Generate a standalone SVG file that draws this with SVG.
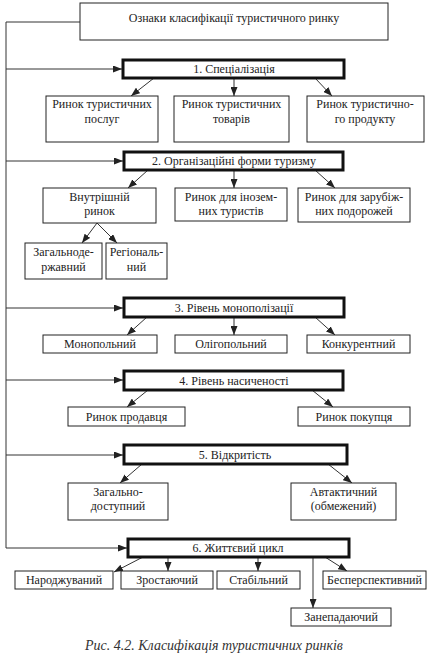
<svg xmlns="http://www.w3.org/2000/svg" width="436" height="664" viewBox="0 0 436 664">
<style>
.b{fill:#fff;stroke:#222;stroke-width:1}
.h{fill:#fff;stroke:#111;stroke-width:3}
.t{font-family:"Liberation Serif","Times New Roman",serif;font-size:12px;fill:#222;text-anchor:middle}
.c{stroke:#333;stroke-width:1;fill:none}
.a{stroke:#333;stroke-width:1;fill:none;marker-end:url(#ar)}
.cap{font-family:"Liberation Serif","Times New Roman",serif;font-size:14px;font-style:italic;fill:#333;text-anchor:middle}
</style>
<defs>
<marker id="ar" markerUnits="userSpaceOnUse" markerWidth="9" markerHeight="7" refX="9" refY="3.5" orient="auto">
<path d="M0,0 L9,3.5 L0,7 z" fill="#222"/>
</marker>
</defs>
<rect width="436" height="664" fill="#fff"/>
<g id="connectors">
<path class="c" d="M80,22 H6 V548"/>
<path class="a" d="M6,69 H122"/>
<path class="a" d="M6,161 H123"/>
<path class="a" d="M6,308 H123"/>
<path class="a" d="M6,380 H123"/>
<path class="a" d="M6,455 H123"/>
<path class="a" d="M6,548 H127"/>
<path class="a" d="M154,78 L131,96"/>
<path class="a" d="M234,78 V96"/>
<path class="a" d="M315,78 L332,96"/>
<path class="a" d="M148,170 L128,188"/>
<path class="a" d="M234,170 V188"/>
<path class="a" d="M315,170 L335,188"/>
<path class="a" d="M97,223 L82,243"/>
<path class="a" d="M97,223 L117,243"/>
<path class="a" d="M147,317 L127,335"/>
<path class="a" d="M234,317 V335"/>
<path class="a" d="M315,317 L335,335"/>
<path class="a" d="M148,390 L127,407"/>
<path class="a" d="M312,390 L333,407"/>
<path class="a" d="M142,464 L120,483"/>
<path class="a" d="M328,464 L352,483"/>
<path class="a" d="M143,557 L114,572"/>
<path class="a" d="M168,557 V571"/>
<path class="a" d="M258,557 V571"/>
<path class="a" d="M313,557 V608"/>
<path class="a" d="M325,557 L347,571"/>
</g>
<g id="root"><rect class="b" x="80" y="3" width="308" height="37"/><text class="t" x="234" y="22">Ознаки класифікації туристичного ринку</text></g>
<g id="c1"><rect class="h" x="123" y="60" width="221" height="18"/><text class="t" x="234" y="73">1. Спеціалізація</text></g>
<g id="n1a"><rect class="b" x="46" y="96" width="112" height="46"/><text class="t" x="102" y="108">Ринок туристичних</text><text class="t" x="102" y="123">послуг</text></g>
<g id="n1b"><rect class="b" x="174" y="96" width="115" height="46"/><text class="t" x="231.5" y="108">Ринок туристичних</text><text class="t" x="231.5" y="123">товарів</text></g>
<g id="n1c"><rect class="b" x="307" y="96" width="117" height="46"/><text class="t" x="365" y="108">Ринок туристично-</text><text class="t" x="365" y="123">го продукту</text></g>
<g id="c2"><rect class="h" x="124" y="152" width="219" height="18"/><text class="t" x="234" y="165">2. Організаційні форми туризму</text></g>
<g id="n2a"><rect class="b" x="43" y="188" width="113" height="35"/><text class="t" x="99.5" y="201">Внутрішній</text><text class="t" x="99.5" y="215">ринок</text></g>
<g id="n2b"><rect class="b" x="175" y="188" width="112" height="33"/><text class="t" x="231" y="201">Ринок для інозем-</text><text class="t" x="231" y="215">них туристів</text></g>
<g id="n2c"><rect class="b" x="298" y="188" width="112" height="34"/><text class="t" x="354" y="201">Ринок для зарубіж-</text><text class="t" x="354" y="215">них подорожей</text></g>
<g id="n2a1"><rect class="b" x="25" y="243" width="77" height="36"/><text class="t" x="63.5" y="256">Загальноде-</text><text class="t" x="63.5" y="271">ржавний</text></g>
<g id="n2a2"><rect class="b" x="106" y="243" width="61" height="36"/><text class="t" x="136.5" y="256">Регіональ-</text><text class="t" x="136.5" y="271">ний</text></g>
<g id="c3"><rect class="h" x="124" y="298" width="220" height="19"/><text class="t" x="234" y="312">3. Рівень монополізації</text></g>
<g id="n3a"><rect class="b" x="43" y="335" width="114" height="18"/><text class="t" x="100" y="348">Монопольний</text></g>
<g id="n3b"><rect class="b" x="175" y="335" width="112" height="18"/><text class="t" x="231" y="348">Олігопольний</text></g>
<g id="n3c"><rect class="b" x="307" y="335" width="103" height="18"/><text class="t" x="358.5" y="348">Конкурентний</text></g>
<g id="c4"><rect class="h" x="124" y="371" width="219" height="19"/><text class="t" x="234" y="385">4. Рівень насиченості</text></g>
<g id="n4a"><rect class="b" x="68" y="407" width="117" height="19"/><text class="t" x="126.5" y="421">Ринок продавця</text></g>
<g id="n4b"><rect class="b" x="298" y="407" width="112" height="19"/><text class="t" x="354" y="421">Ринок покупця</text></g>
<g id="c5"><rect class="h" x="124" y="445" width="223" height="19"/><text class="t" x="235" y="459">5. Відкритість</text></g>
<g id="n5a"><rect class="b" x="68" y="483" width="100" height="37"/><text class="t" x="118" y="496">Загально-</text><text class="t" x="118" y="510">доступний</text></g>
<g id="n5b"><rect class="b" x="291" y="483" width="105" height="37"/><text class="t" x="343.5" y="496">Автактичний</text><text class="t" x="343.5" y="510">(обмежений)</text></g>
<g id="c6"><rect class="h" x="128" y="539" width="221" height="18"/><text class="t" x="238" y="552">6. Життєвий цикл</text></g>
<g id="n6a"><rect class="b" x="15" y="571" width="98" height="18"/><text class="t" x="64" y="584">Народжуваний</text></g>
<g id="n6b"><rect class="b" x="121" y="571" width="92" height="18"/><text class="t" x="167" y="584">Зростаючий</text></g>
<g id="n6c"><rect class="b" x="217" y="571" width="83" height="18"/><text class="t" x="258.5" y="584">Стабільний</text></g>
<g id="n6d"><rect class="b" x="323" y="571" width="103" height="18"/><text class="t" x="374.5" y="584">Бесперспективний</text></g>
<g id="n6e"><rect class="b" x="291" y="608" width="100" height="18"/><text class="t" x="341" y="621">Занепадаючий</text></g>
<text class="cap" x="214" y="650">Рис. 4.2. Класифікація туристичних ринків</text>
</svg>
